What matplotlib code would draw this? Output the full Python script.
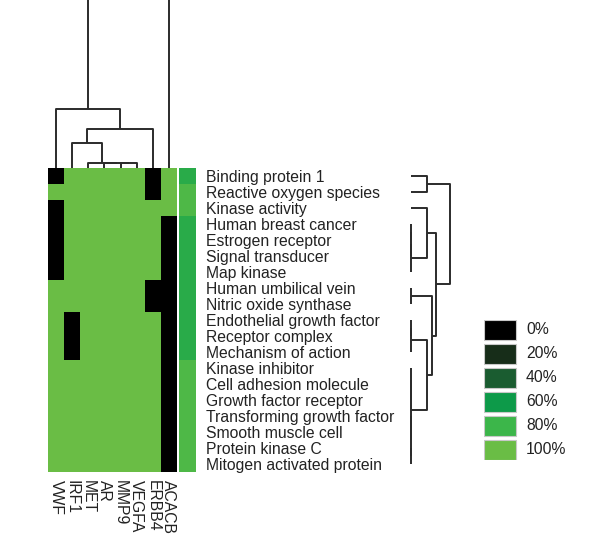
import matplotlib
matplotlib.use("Agg")
import matplotlib.pyplot as plt
import numpy as np
from matplotlib.colors import LinearSegmentedColormap
from matplotlib.patches import Rectangle

plt.rcParams['font.family'] = ['Liberation Sans', 'DejaVu Sans']

genes = ["VWF", "IRF1", "MET", "AR", "MMP9", "VEGFA", "ERBB4", "ACACB"]

terms = ["Binding protein 1", "Reactive oxygen species", "Kinase activity",
         "Human breast cancer", "Estrogen receptor", "Signal transducer",
         "Map kinase", "Human umbilical vein", "Nitric oxide synthase",
         "Endothelial growth factor", "Receptor complex", "Mechanism of action",
         "Kinase inhibitor", "Cell adhesion molecule", "Growth factor receptor",
         "Transforming growth factor", "Smooth muscle cell", "Protein kinase C",
         "Mitogen activated protein"]

# percent values, rows = terms, cols = genes
values = [
    [0, 100, 100, 100, 100, 100, 0, 100],
    [100, 100, 100, 100, 100, 100, 0, 100],
    [0, 100, 100, 100, 100, 100, 100, 100],
    [0, 100, 100, 100, 100, 100, 100, 0],
    [0, 100, 100, 100, 100, 100, 100, 0],
    [0, 100, 100, 100, 100, 100, 100, 0],
    [0, 100, 100, 100, 100, 100, 100, 0],
    [100, 100, 100, 100, 100, 100, 0, 0],
    [100, 100, 100, 100, 100, 100, 0, 0],
    [100, 0, 100, 100, 100, 100, 100, 0],
    [100, 0, 100, 100, 100, 100, 100, 0],
    [100, 0, 100, 100, 100, 100, 100, 0],
    [100, 100, 100, 100, 100, 100, 100, 0],
    [100, 100, 100, 100, 100, 100, 100, 0],
    [100, 100, 100, 100, 100, 100, 100, 0],
    [100, 100, 100, 100, 100, 100, 100, 0],
    [100, 100, 100, 100, 100, 100, 100, 0],
    [100, 100, 100, 100, 100, 100, 100, 0],
    [100, 100, 100, 100, 100, 100, 100, 0],
]

# side colour bar (percent)
side_values = [72, 88, 88, 72, 72, 72, 72, 72, 72, 72, 72, 72,
               88, 88, 88, 88, 88, 88, 88]

legend_labels = ["0%", "20%", "40%", "60%", "80%", "100%"]
legend_levels = [0, 20, 40, 60, 80, 100]
legend_colors = ["#000000", "#172d19", "#1a5c30", "#0d9a49", "#3cb64a", "#6abd45"]

# dendrogram merges: (left, right, height); index >= n means earlier merge
col_merges = [(4, 5, 0.03), (3, 8, 0.03), (2, 9, 0.03), (1, 10, 0.15),
              (11, 6, 0.23), (0, 12, 0.35), (13, 7, 1.4)]

row_merges = [(0, 1, 0.4),                       # 19
              (3, 4, 0.0), (20, 5, 0.0), (21, 6, 0.0),   # 20-22
              (2, 22, 0.4),                      # 23
              (7, 8, 0.0),                       # 24
              (9, 10, 0.0), (25, 11, 0.0),       # 25-26
              (13, 14, 0.0), (12, 27, 0.0),      # 27-28
              (15, 16, 0.0), (17, 18, 0.0), (29, 30, 0.0),  # 29-31
              (28, 31, 0.0),                     # 32
              (26, 32, 0.4),                     # 33
              (24, 33, 0.525),                   # 34
              (23, 34, 0.625),                   # 35
              (19, 35, 0.975)]                   # 36


def dendro_segments(n, merges):
    pos = list(range(n))
    hgt = [0.0] * n
    segs = []
    for a, b, h in merges:
        segs.append(([pos[a], pos[a], pos[b], pos[b]], [hgt[a], h, h, hgt[b]]))
        pos.append((pos[a] + pos[b]) / 2)
        hgt.append(h)
    return segs


W, H = 600, 539
fig = plt.figure(figsize=(W / 100, H / 100), dpi=100)


def px_axes(x0, y0, x1, y1):
    return fig.add_axes([x0 / W, 1 - y1 / H, (x1 - x0) / W, (y1 - y0) / H])


cmap = LinearSegmentedColormap.from_list(
    "g", list(zip(np.array(legend_levels) / 100, legend_colors)))

line_kw = dict(color="#2b2b2b", lw=1.4, solid_capstyle="butt", clip_on=False)
fs = 11.3

# heatmap
ax_h = px_axes(48, 168, 177, 472)
ax_h.imshow(np.array(values), cmap=cmap, vmin=0, vmax=100,
            aspect="auto", interpolation="nearest")
ax_h.set_xticks(range(len(genes)))
ax_h.set_xticklabels(genes, rotation=270, fontsize=fs, color="#222222")
ax_h.set_yticks([])
ax_h.tick_params(axis="x", length=0, pad=6)
for s in ax_h.spines.values():
    s.set_visible(False)

# side column
ax_s = px_axes(179, 168, 196, 472)
ax_s.imshow(np.array(side_values).reshape(-1, 1), cmap=cmap, vmin=0, vmax=100,
            aspect="auto", interpolation="nearest")
ax_s.set_xticks([])
ax_s.yaxis.tick_right()
ax_s.set_yticks(range(len(terms)))
ax_s.set_yticklabels(terms, fontsize=fs, color="#222222")
ax_s.tick_params(axis="y", length=0, pad=7)
for s in ax_s.spines.values():
    s.set_visible(False)

# top dendrogram
ax_t = px_axes(48, 0, 177, 168)
for xs, ys in dendro_segments(len(genes), col_merges):
    ax_t.plot(xs, ys, **line_kw)
ax_t.set_xlim(-0.5, len(genes) - 0.5)
ax_t.set_ylim(0, 1.0)
for l in ax_t.lines:
    l.set_clip_on(True)
ax_t.axis("off")

# right dendrogram
ax_r = px_axes(409, 168, 451, 472)
for ys, xs in dendro_segments(len(terms), row_merges):
    ax_r.plot(xs, ys, **line_kw)
ax_r.set_xlim(-0.05, 1.0)
ax_r.set_ylim(len(terms) - 0.5, -0.5)
ax_r.axis("off")

# legend
ax_l = px_axes(484, 320, 584, 460)
for i, (lab, col) in enumerate(zip(legend_labels, legend_colors)):
    ax_l.add_patch(Rectangle((0, i * 24), 32, 19.5, facecolor=col,
                             edgecolor="#c8c8c8", lw=0.8))
    ax_l.text(42, i * 24 + 10, lab, fontsize=fs, va="center", ha="left",
              color="#222222")
ax_l.set_xlim(0, 100)
ax_l.set_ylim(140, 0)
ax_l.axis("off")

fig.savefig("out.png", dpi=100)
